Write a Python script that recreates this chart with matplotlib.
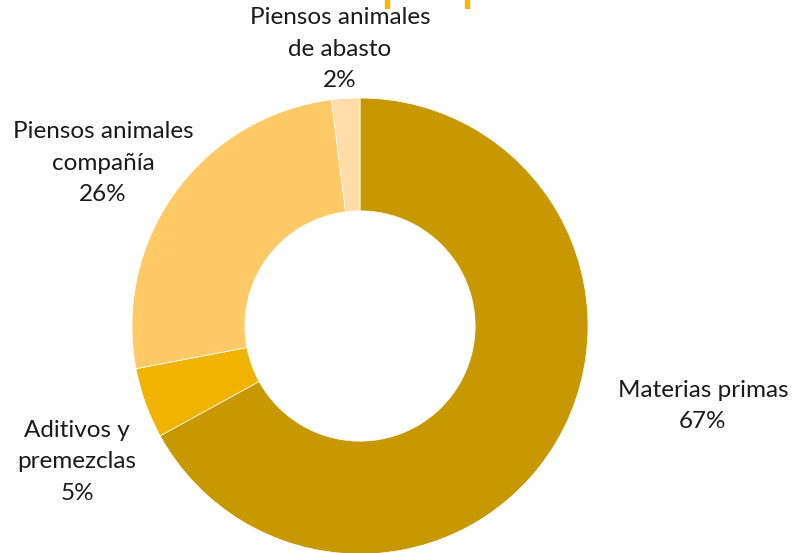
import matplotlib
matplotlib.use("Agg")
import matplotlib.pyplot as plt

categories = ["Materias primas", "Aditivos y\npremezclas", "Piensos animales\ncompañía", "Piensos animales\nde abasto"]
values = [67, 5, 26, 2]
colors = ["#C89800", "#F0B400", "#FFC966", "#FFDCA8"]

W, H = 796, 553
cx, cy, R = 360, 326, 228

fig = plt.figure(figsize=(W / 100, H / 100), dpi=100)
ax = fig.add_axes([0, 0, 1, 1])
ax.pie(values, colors=colors, startangle=90, counterclock=False,
       center=(cx, H - cy), radius=R, frame=True,
       wedgeprops=dict(width=R * 0.495, edgecolor="white", linewidth=0.5))
ax.set_xlim(0, W)
ax.set_ylim(0, H)
ax.set_aspect("equal")
ax.axis("off")

label_pos = [(703, 406), (77, 462), (103, 163), (340, 49)]
for cat, v, (x, y) in zip(categories, values, label_pos):
    ax.text(x, H - y, f"{cat}\n{v}%", ha="center", va="center", fontsize=17.5,
            family="Lato", color="#1a1a1a", linespacing=1.6)

# small decorative marks at top edge
for x0 in (385, 465):
    fig.patches.append(plt.Rectangle((x0 / W, 1 - 8 / H), 4 / W, 8 / H,
                                     transform=fig.transFigure, color="#F5B800"))

fig.savefig("out.png", dpi=100)
